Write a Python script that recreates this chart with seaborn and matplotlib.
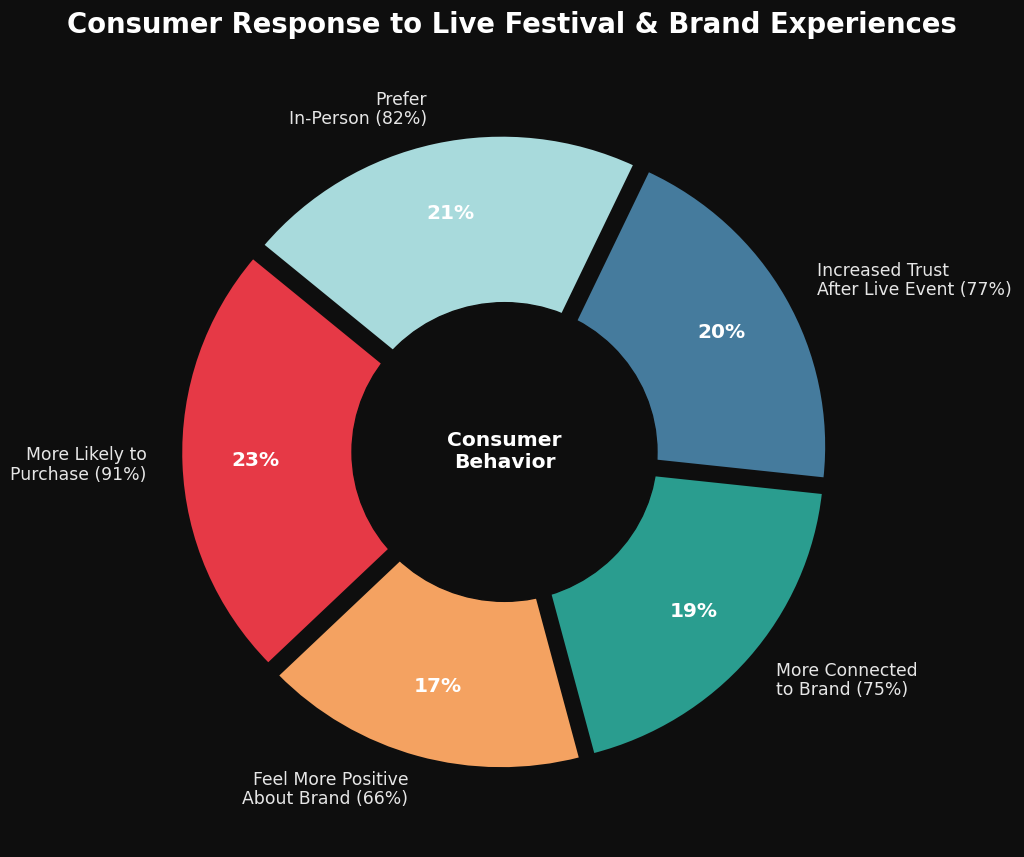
import matplotlib
matplotlib.use("Agg")
import matplotlib.pyplot as plt
import seaborn as sns

# Survey data
labels = [
    "More Likely to\nPurchase (91%)",
    "Prefer\nIn-Person (82%)",
    "Increased Trust\nAfter Live Event (77%)",
    "More Connected\nto Brand (75%)",
    "Feel More Positive\nAbout Brand (66%)",
]
values = [91, 82, 77, 75, 66]
colors = ["#E63946", "#A8DADC", "#457B9D", "#2A9D8F", "#F4A261"]

BG = "#0e0e0e"

sns.set_theme(style="dark")
plt.rcParams["font.family"] = ["DejaVu Sans"]

fig = plt.figure(figsize=(10.24, 8.57), dpi=100, facecolor=BG)
# axes box a bit flatter than square, like the original
ax = fig.add_axes([115.5 / 1024, 24 / 857, 778 / 1024, 762 / 857])
ax.set_facecolor(BG)

wedges, texts, autotexts = ax.pie(
    values,
    labels=labels,
    colors=colors,
    startangle=224,
    counterclock=False,
    explode=[0.04] * len(values),
    autopct="%1.0f%%",
    pctdistance=0.76,
    labeldistance=1.11,
    wedgeprops=dict(edgecolor=BG, linewidth=2),
    textprops=dict(color="#e6e6e6", fontsize=12.4),
)

for t in texts:
    t.set_linespacing(1.1)

for t in autotexts:
    t.set_color("white")
    t.set_fontsize(14.5)
    t.set_fontweight("bold")

# donut hole
centre = plt.Circle((0, 0), 0.49, color=BG)
ax.add_artist(centre)
ax.text(0, 0, "Consumer\nBehavior", ha="center", va="center",
        color="white", fontsize=14.6, fontweight="bold")

ax.set_aspect("auto")
ax.set_xlim(-1.25, 1.25)
ax.set_ylim(-1.25, 1.25)

fig.suptitle("Consumer Response to Live Festival & Brand Experiences",
             color="white", fontsize=19.8, fontweight="bold", y=0.987)

fig.savefig("out.png", dpi=100, facecolor=BG)
